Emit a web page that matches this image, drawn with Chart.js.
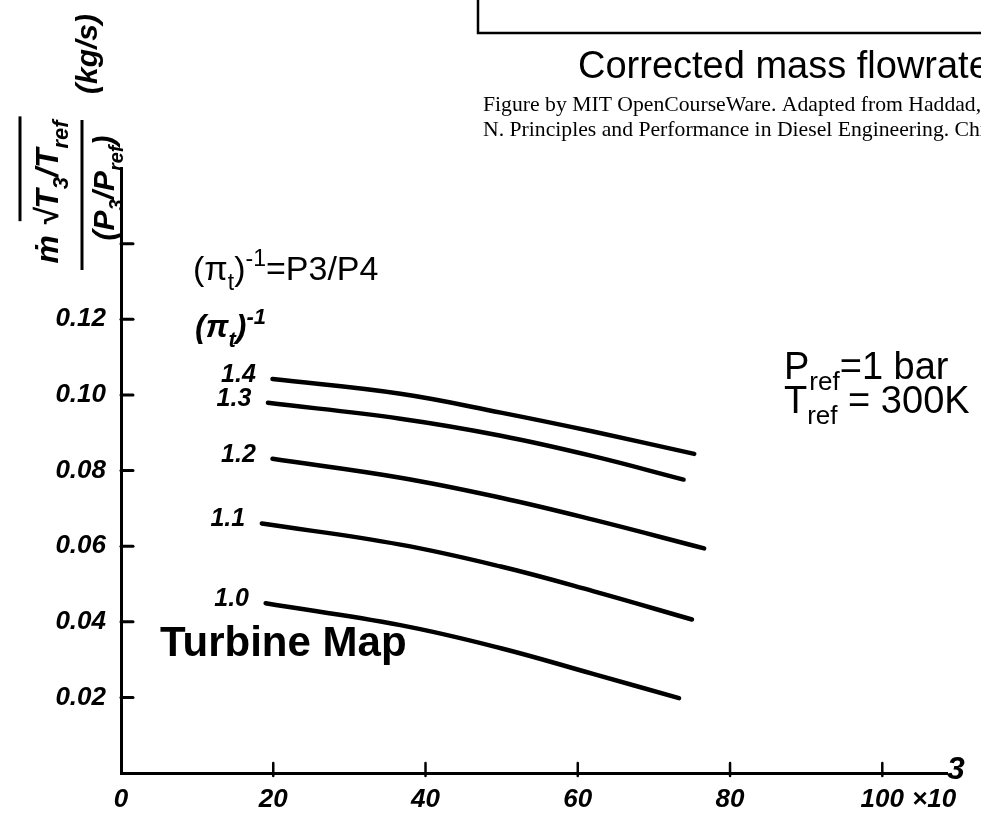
<!DOCTYPE html>
<html>
<head>
<meta charset="utf-8">
<script src="https://cdn.jsdelivr.net/npm/chart.js@4"></script>
<style>
    html, body { margin: 0; padding: 0; background: #fff; }
    #wrap { width: 981px; height: 828px; position: relative; }
</style>
</head>
<body>
<div id="wrap"><canvas id="turbineMap"></canvas></div>
<script>
// --- data (x in 10^3, y in kg/s) ---
const ratioLabels = ['1.4', '1.3', '1.2', '1.1', '1.0'];
const flow14 = [19.9, 36.7, 49.9, 62, 75.3];
const mass14 = [0.1042, 0.1003, 0.0953, 0.0903, 0.0844];
const flow13 = [19.3, 36.7, 49.9, 62, 73.9];
const mass13 = [0.0979, 0.0937, 0.0892, 0.0838, 0.0776];
const flow12 = [19.9, 36.7, 49.9, 62, 76.6];
const mass12 = [0.0831, 0.0781, 0.0728, 0.0670, 0.0594];
const flow11 = [18.5, 36.7, 49.9, 62, 75.0];
const mass11 = [0.0660, 0.0604, 0.0546, 0.0481, 0.0406];
const flow10 = [19.0, 36.7, 49.9, 62, 73.3];
const mass10 = [0.0449, 0.0391, 0.0330, 0.0262, 0.0198];

const xTickLabels = [0, 20, 40, 60, 80, 100];
const xTickMarks = [20, 40, 60, 80, 100];
const yTickLabels = [0.02, 0.04, 0.06, 0.08, 0.10, 0.12];
const yTickMarks = [0.02, 0.04, 0.06, 0.08, 0.10, 0.12, 0.14];

const flows = [flow14, flow13, flow12, flow11, flow10];
const masses = [mass14, mass13, mass12, mass11, mass10];

const SANS = "'Liberation Sans', Arial, sans-serif";
const SERIF = "'Liberation Serif', 'Times New Roman', serif";
const hand = size => `italic bold ${size}px ${SANS}`;

// draws text pieces with sub / superscripts, returns start positions
function drawParts(ctx, parts, x, y, size, style, family, measureOnly) {
    let cx = x;
    const starts = [];
    parts.forEach(p => {
        const s = (p.sub || p.sup) ? Math.round(size * 0.68) : size;
        ctx.font = `${style} ${s}px ${family}`;
        const dy = p.sub ? size * 0.3 : p.sup ? -size * 0.42 : 0;
        starts.push(cx);
        if (!measureOnly) ctx.fillText(p.t, cx, y + dy);
        cx += ctx.measureText(p.t).width;
    });
    starts.push(cx);
    return starts;
}

function rotated(ctx, cx, cy, fn) {
    ctx.save();
    ctx.translate(cx, cy);
    ctx.rotate(-Math.PI / 2);
    fn();
    ctx.restore();
}

const annotations = {
    id: 'annotations',
    afterDraw(chart) {
        const ctx = chart.ctx;
        const xs = chart.scales.x, ys = chart.scales.y;
        const area = chart.chartArea;
        ctx.save();
        ctx.fillStyle = '#000';
        ctx.strokeStyle = '#000';
        ctx.lineCap = 'round';

        // 1. inward tick marks
        ctx.lineWidth = 3;
        yTickMarks.forEach(v => {
            const py = ys.getPixelForValue(v);
            ctx.beginPath(); ctx.moveTo(area.left, py); ctx.lineTo(area.left + 12, py); ctx.stroke();
        });
        ctx.lineWidth = 2.5;
        xTickMarks.forEach(v => {
            const px = xs.getPixelForValue(v);
            ctx.beginPath(); ctx.moveTo(px, area.bottom - 10); ctx.lineTo(px, area.bottom + 3); ctx.stroke();
        });

        // 2. curve labels at the start of each line
        ctx.textAlign = 'center';
        ctx.textBaseline = 'middle';
        ctx.font = hand(25);
        chart.data.datasets.forEach(ds => {
            const p0 = ds.data[0];
            ctx.fillText(ds.label, xs.getPixelForValue(p0.x) - 34, ys.getPixelForValue(p0.y) - 4);
        });

        // x10^3 after the last x label
        ctx.textAlign = 'left';
        ctx.font = hand(26);
        ctx.fillText('×10', 912, 800);
        ctx.font = hand(32);
        ctx.fillText('3', 947, 770);

        // 3. top box and caption
        ctx.lineWidth = 2.5;
        ctx.lineCap = 'butt';
        ctx.beginPath(); ctx.moveTo(478, 0); ctx.lineTo(478, 33); ctx.lineTo(981, 33); ctx.stroke();

        ctx.textBaseline = 'alphabetic';
        ctx.font = `38px ${SANS}`;
        ctx.fillText('Corrected mass flowrate', 578, 78);
        ctx.font = `21.7px ${SERIF}`;
        ctx.fillText('Figure by MIT OpenCourseWare. Adapted from Haddad,', 483, 111);
        ctx.fillText('N. Principles and Performance in Diesel Engineering. Chi', 483, 136);

        // 4. notes inside the plot
        drawParts(ctx, [{t: '(π'}, {t: 't', sub: true}, {t: ')'}, {t: '-1', sup: true}, {t: '=P3/P4'}],
            193, 280, 34, '', SANS);
        drawParts(ctx, [{t: '(π'}, {t: 't', sub: true}, {t: ')'}, {t: '-1', sup: true}],
            195, 337, 32, 'italic bold', SANS);
        drawParts(ctx, [{t: 'P'}, {t: 'ref', sub: true}, {t: '=1 bar'}], 784, 379, 38, '', SANS);
        drawParts(ctx, [{t: 'T'}, {t: 'ref', sub: true}, {t: ' = 300K'}], 784, 413, 38, '', SANS);
        ctx.font = `bold 42px ${SANS}`;
        ctx.fillText('Turbine Map', 160, 656);

        // 5. rotated y axis title
        rotated(ctx, 46, 192, () => {
            const parts = [{t: 'ṁ'}, {t: ' √'}, {t: 'T'}, {t: '3', sub: true}, {t: '/T'}, {t: 'ref', sub: true}];
            const w = drawParts(ctx, parts, 0, 0, 32, 'italic bold', SANS, true);
            const st = drawParts(ctx, parts, -w[w.length - 1] / 2, 12, 32, 'italic bold', SANS);
            ctx.lineWidth = 3;
            ctx.beginPath(); ctx.moveTo(st[1] + 14, -26); ctx.lineTo(st[st.length - 1] + 4, -26); ctx.stroke();
        });
        ctx.lineWidth = 3;
        ctx.beginPath(); ctx.moveTo(82, 120); ctx.lineTo(82, 270); ctx.stroke();
        rotated(ctx, 106, 188, () => {
            const parts = [{t: '(P'}, {t: '3', sub: true}, {t: '/P'}, {t: 'ref', sub: true}, {t: ')'}];
            const w = drawParts(ctx, parts, 0, 0, 30, 'italic bold', SANS, true);
            drawParts(ctx, parts, -w[w.length - 1] / 2, 8, 30, 'italic bold', SANS);
        });
        rotated(ctx, 88, 54, () => {
            ctx.textAlign = 'center';
            ctx.font = hand(30);
            ctx.fillText('(kg/s)', 0, 9);
        });
        ctx.restore();
    }
};

new Chart(document.getElementById('turbineMap'), {
    type: 'line',
    data: {
        datasets: ratioLabels.map((lab, i) => ({
            label: lab,
            data: flows[i].map((fx, j) => ({ x: fx, y: masses[i][j] })),
            borderColor: '#000',
            borderWidth: 4.5,
            borderCapStyle: 'round',
            pointRadius: 0,
            tension: 0.4,
            fill: false
        }))
    },
    options: {
        responsive: true,
        maintainAspectRatio: false,
        animation: false,
        layout: { padding: { left: 0, top: 168, right: 34, bottom: 0 } },
        plugins: { legend: { display: false }, tooltip: { enabled: false } },
        scales: {
            x: {
                type: 'linear',
                min: 0,
                max: 108.5,
                afterFit: s => { s.height = 55; },
                grid: { display: false, drawTicks: false },
                border: { color: '#000', width: 3 },
                ticks: {
                    stepSize: 20,
                    includeBounds: false,
                    padding: 11,
                    color: '#000',
                    font: { family: SANS, size: 26, style: 'italic', weight: 'bold' },
                    callback: v => xTickLabels.includes(v) ? String(v) : ''
                }
            },
            y: {
                type: 'linear',
                min: 0,
                max: 0.16,
                afterFit: s => { s.width = 121; },
                grid: { display: false, drawTicks: false },
                border: { color: '#000', width: 3 },
                ticks: {
                    stepSize: 0.02,
                    padding: 15,
                    color: '#000',
                    font: { family: SANS, size: 26, style: 'italic', weight: 'bold' },
                    callback: v => yTickLabels.some(t => Math.abs(t - v) < 1e-6) ? v.toFixed(2) : ''
                }
            }
        }
    },
    plugins: [annotations]
});
</script>
</body>
</html>
